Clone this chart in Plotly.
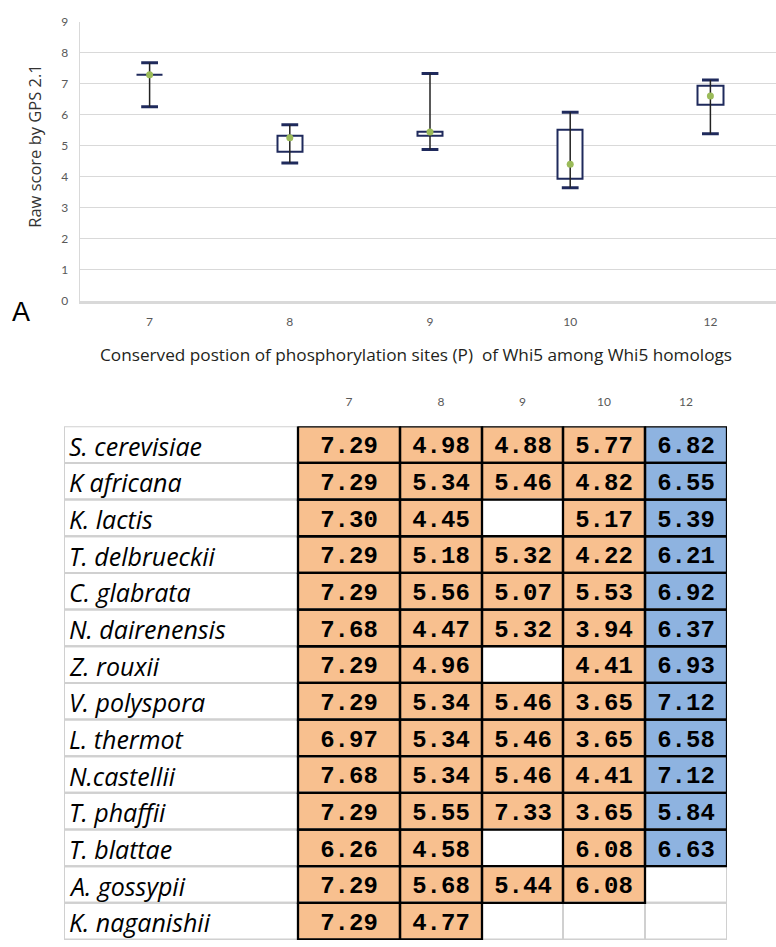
import numpy as np
import plotly.graph_objects as go

# ---------------- data ----------------
species = ["S. cerevisiae", "K africana", "K. lactis", "T. delbrueckii", "C. glabrata",
           "N. dairenensis", "Z. rouxii", "V. polyspora", "L. thermot", "N.castellii",
           "T. phaffii", "T. blattae", "A. gossypii", "K. naganishii"]
positions = ["7", "8", "9", "10", "12"]
p7 = [7.29, 7.29, 7.30, 7.29, 7.29, 7.68, 7.29, 7.29, 6.97, 7.68, 7.29, 6.26, 7.29, 7.29]
p8 = [4.98, 5.34, 4.45, 5.18, 5.56, 4.47, 4.96, 5.34, 5.34, 5.34, 5.55, 4.58, 5.68, 4.77]
p9 = [4.88, 5.46, None, 5.32, 5.07, 5.32, None, 5.46, 5.46, 5.46, 7.33, None, 5.44, None]
p10 = [5.77, 4.82, 5.17, 4.22, 5.53, 3.94, 4.41, 3.65, 3.65, 4.41, 3.65, 6.08, 6.08, None]
p12 = [6.82, 6.55, 5.39, 6.21, 6.92, 6.37, 6.93, 7.12, 6.58, 7.12, 5.84, 6.63, None, None]
columns = [p7, p8, p9, p10, p12]

x_title = "Conserved postion of phosphorylation sites (P)\u00a0 of Whi5 among Whi5 homologs"
y_title = "Raw score by GPS 2.1"

# ---------------- style ----------------
W, H = 776, 947
NAVY = "#1F2A5C"
GREEN = "#9BBB59"
ORANGE = "#F8C08F"
BLUE = "#8EB3E0"
GRID = "#D9D9D9"
TGRID = "#D0D0D0"
TICK = "#595959"

fig = go.Figure()

# ---------------- box-and-whisker (Excel style, inclusive quartiles) ----------------
vals = [np.array([v for v in c if v is not None]) for c in columns]
q1 = [float(np.percentile(v, 25)) for v in vals]
q3 = [float(np.percentile(v, 75)) for v in vals]
med = [float(np.median(v)) for v in vals]
vmin = [float(v.min()) for v in vals]
vmax = [float(v.max()) for v in vals]

fig.add_trace(go.Bar(
    x=positions, y=[b - a for a, b in zip(q1, q3)], base=q1, width=0.18,
    marker=dict(color="white", line=dict(color=NAVY, width=2)),
    hoverinfo="skip", showlegend=False))

fig.add_trace(go.Scatter(
    x=positions + positions, y=vmin + vmax, mode="markers",
    marker=dict(symbol="line-ew", size=12, color=NAVY, line=dict(color=NAVY, width=3)),
    hoverinfo="skip", showlegend=False))

fig.add_trace(go.Scatter(
    x=positions, y=med, mode="markers",
    marker=dict(color=GREEN, size=7),
    error_y=dict(type="data", symmetric=False,
                 array=[a - m for a, m in zip(vmax, med)],
                 arrayminus=[m - a for a, m in zip(vmin, med)],
                 color="#222222", thickness=1.5, width=0),
    hoverinfo="skip", showlegend=False))

# ---------------- table (second subplot) ----------------
colw = [234, 102, 82, 81, 82, 82]
edges = list(np.cumsum([0] + colw))
val_edges = edges[1:]
centers = [(a + b) / 2 for a, b in zip(val_edges[:-1], val_edges[1:])]
nrow = len(species)
rows = list(range(nrow))

zcat = [[(2 if positions[j] == "12" else 1) if columns[j][i] is not None else None
         for j in range(len(columns))] for i in rows]
ztext = [[f"{columns[j][i]:.2f}" if columns[j][i] is not None else ""
          for j in range(len(columns))] for i in rows]

fig.add_trace(go.Heatmap(
    x=val_edges, y=rows, z=zcat, text=ztext, texttemplate="%{text}",
    textfont=dict(family="Liberation Mono", size=24, color="black", weight="bold"),
    colorscale=[[0, ORANGE], [0.5, ORANGE], [0.5, BLUE], [1, BLUE]],
    zmin=1, zmax=2, showscale=False, hoverinfo="skip",
    xaxis="x2", yaxis="y2"))

def cell_segments(cells):
    xs, ys = [], []
    for (c, r) in cells:
        xa, xb = edges[c], edges[c + 1]
        ya, yb = r - 0.5, r + 0.5
        xs += [xa, xb, xb, xa, xa, None]
        ys += [ya, ya, yb, yb, ya, None]
    return xs, ys

all_cells = [(c, r) for c in range(len(colw)) for r in rows]
gx, gy = cell_segments(all_cells)
fig.add_trace(go.Scatter(x=gx, y=gy, mode="lines", line=dict(color=TGRID, width=2),
                         hoverinfo="skip", showlegend=False, xaxis="x2", yaxis="y2",
                         cliponaxis=False))
filled = [(j + 1, i) for j in range(len(columns)) for i in rows if columns[j][i] is not None]
bx_, by_ = cell_segments(filled)
fig.add_trace(go.Scatter(x=bx_, y=by_, mode="lines", line=dict(color="black", width=2.3),
                         hoverinfo="skip", showlegend=False, xaxis="x2", yaxis="y2",
                         cliponaxis=False))

annotations = [dict(text=f"<i>{s}</i>", x=0, y=i, xref="x2", yref="y2", xanchor="left",
                    yanchor="middle", xshift=3, yshift=-1, showarrow=False,
                    font=dict(family="Open Sans", size=25, color="black"))
               for i, s in enumerate(species)]
annotations.append(dict(text="A", x=21 / W, y=1 - 309 / H, xref="paper", yref="paper",
                        showarrow=False, font=dict(family="Liberation Sans", size=27, color="black"),
                        xanchor="center", yanchor="middle"))
annotations.append(dict(text=y_title, x=35 / W, y=1 - 140 / H, xref="paper", yref="paper",
                        textangle=-90, showarrow=False, xanchor="center", yanchor="middle",
                        font=dict(family="Open Sans", size=16.5, color="#333333")))
annotations.append(dict(text=x_title, x=416 / W, y=1 - 352 / H, xref="paper", yref="paper",
                        showarrow=False, xanchor="center", yanchor="middle",
                        font=dict(family="Open Sans", size=17.2, color="#231F20")))

# ---------------- layout ----------------
x0 = 79.5
step = 140.2
tbl_top = 425
row_h = 37.25
fig.update_layout(
    width=W, height=H,
    margin=dict(l=0, r=0, t=0, b=0),
    paper_bgcolor="white", plot_bgcolor="white",
    font=dict(family="Lato", color=TICK),
    bargap=0,
    xaxis=dict(
        domain=[x0 / W, 1], type="category", categoryorder="array", categoryarray=positions,
        range=[-0.5, (W - x0) / step - 0.5],
        showgrid=False, zeroline=False, ticks="",
        showline=True, linecolor=GRID, linewidth=2.5,
        tickfont=dict(size=12, color=TICK), ticklabelstandoff=8,
        fixedrange=True),
    yaxis=dict(
        domain=[1 - 297.7 / H, 1 - 14 / H], range=[0, 9], dtick=1,
        showgrid=True, gridcolor=GRID, gridwidth=1.4, zeroline=False,
        showline=True, linecolor=GRID, linewidth=1, ticks="",
        tickfont=dict(size=12, color=TICK), ticklabelstandoff=8,
        fixedrange=True),
    xaxis2=dict(
        domain=[64 / W, 727 / W], range=[0, edges[-1]], anchor="y2", side="top",
        tickvals=centers, ticktext=positions, ticks="", showgrid=False, zeroline=False,
        showline=False, tickfont=dict(size=12, color=TICK), ticklabelstandoff=17,
        fixedrange=True),
    yaxis2=dict(
        domain=[0, 1 - tbl_top / H], range=[(H - tbl_top) / row_h - 0.5, -0.5],
        visible=False, fixedrange=True),
    annotations=annotations,
)

fig.write_html("out.html")
